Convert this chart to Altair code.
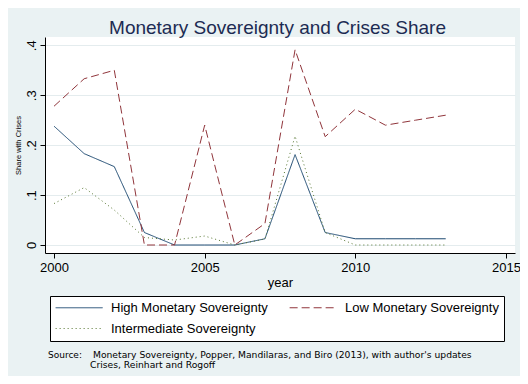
import altair as alt
import pandas as pd

years = list(range(2000, 2014))
high = [0.238, 0.183, 0.157, 0.025, 0.0, 0.0, 0.0, 0.0125, 0.181, 0.025, 0.0125, 0.0125, 0.0125, 0.0125]
low = [0.278, 0.333, 0.350, 0.0, 0.0, 0.240, 0.0, 0.043, 0.391, 0.217, 0.272, 0.240, 0.250, 0.260]
inter = [0.083, 0.115, 0.070, 0.015, 0.010, 0.018, 0.0, 0.012, 0.218, 0.025, 0.0, 0.0, 0.0, 0.0]

series_names = ["High Monetary Sovereignty", "Low Monetary Sovereignty", "Intermediate Sovereignty"]
colors = ["#1a476f", "#90353b", "#55752f"]
dashes = [[1, 0], [8, 4], [1, 3]]
x_ticks = [2000, 2005, 2010, 2015]
y_ticks = [0, 0.1, 0.2, 0.3, 0.4]
title_text = "Monetary Sovereignty and Crises Share"
y_title = "Share with Crises"
x_title = "year"
source_head = ["Source:"]
source_line1 = ["Monetary Sovereignty, Popper, Mandilaras, and Biro (2013), with author's updates"]
source_line2 = ["Crises, Reinhart and Rogoff"]

FONT = "Liberation Sans"
NOTE_FONT = "DejaVu Sans"
BG = "#eaf2f3"

rows = []
for name, vals in zip(series_names, [high, low, inter]):
    for yr, v in zip(years, vals):
        rows.append({"year": yr, "share": v, "series": name})
df = pd.DataFrame(rows)

legend = alt.Legend(
    title=None, orient="none", legendX=5, legendY=259, columns=2, direction="horizontal",
    columnPadding=19, rowPadding=7, padding=5,
    strokeColor="black", fillColor="white",
    symbolType="M-1,0H7", symbolSize=138, symbolStrokeWidth=1,
    labelFont=FONT, labelFontSize=13, labelColor="black", labelOffset=43, labelLimit=400,
)

lines = alt.Chart(df).mark_line(strokeWidth=1, clip=True).encode(
    x=alt.X("year:Q",
            scale=alt.Scale(domain=[1999.70, 2015.30], nice=False, zero=False),
            axis=alt.Axis(values=x_ticks, format="d", title=x_title, grid=False,
                          labelFont=FONT, labelFontSize=13, labelColor="black",
                          labelPadding=3, tickSize=5, tickColor="black",
                          domainColor="black", labelFlush=False,
                          titleFont=FONT, titleFontSize=13, titleFontWeight="normal",
                          titleColor="black", titleY=33, titleBaseline="alphabetic")),
    y=alt.Y("share:Q",
            scale=alt.Scale(domain=[-0.016, 0.4166], nice=False, zero=False),
            axis=alt.Axis(values=y_ticks,
                          labelExpr="datum.value == 0 ? '0' : replace(format(datum.value, '.1f'), '0.', '.')",
                          labelAngle=270, labelAlign="center", labelBaseline="alphabetic",
                          labelFont=FONT, labelFontSize=13, labelColor="black",
                          labelPadding=5, tickSize=5, tickColor="black", domainColor="black",
                          grid=True, gridColor="#e4ecee", gridWidth=1,
                          title=y_title, titleFont=FONT, titleFontSize=7.5,
                          titleFontWeight="normal", titleColor="black",
                          titleX=-27, titleY=108, titleAngle=270,
                          titleAlign="center", titleBaseline="middle")),
    color=alt.Color("series:N", scale=alt.Scale(domain=series_names, range=colors), legend=legend),
    strokeDash=alt.StrokeDash("series:N", scale=alt.Scale(domain=series_names, range=dashes), legend=legend),
)

def note(texts, xpos, ypos, size):
    return alt.Chart(pd.DataFrame({"t": texts})).mark_text(
        font=NOTE_FONT, fontSize=size, align="left", baseline="alphabetic", color="black"
    ).encode(x=alt.value(xpos), y=alt.value(ypos), text="t:N")

head = note(source_head, 3, 321, 9)
line1 = note(source_line1, 48, 321, 9.2)
line2 = note(source_line2, 45, 331, 9.2)

chart = alt.layer(lines, head, line1, line2).properties(
    width=470, height=216,
    autosize=alt.AutoSizeParams(type="none"),
    padding={"left": 37, "top": 29, "right": 5, "bottom": 123},
    background=BG,
    title=alt.Title(title_text, font=FONT, fontSize=19, fontWeight="normal",
                    color="#1c2b52", anchor="middle", dx=-2.5, offset=-1),
).configure_view(fill="white", stroke=None)

chart.save("out.html", embed_options={"renderer": "svg", "actions": False})
